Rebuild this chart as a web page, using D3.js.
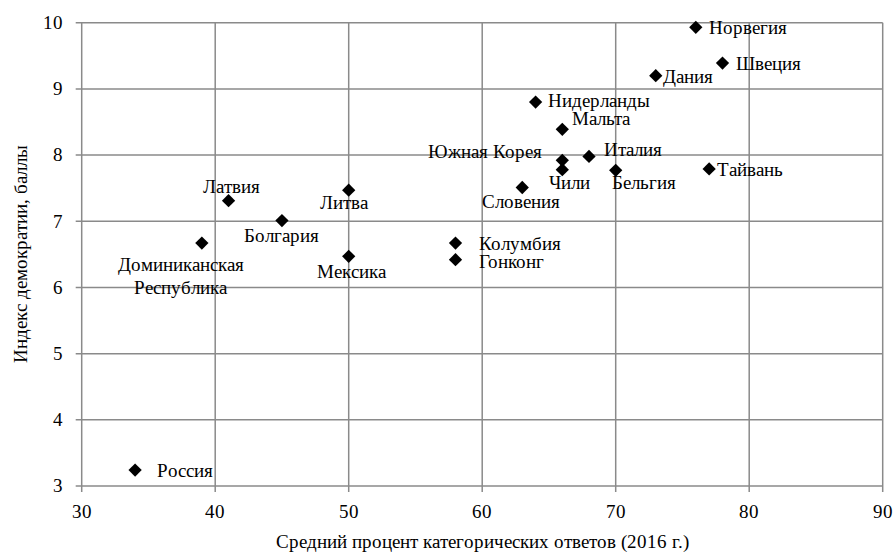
<!DOCTYPE html>
<html>
<head>
<meta charset="utf-8">
<script src="https://cdn.jsdelivr.net/npm/d3@7"></script>
<style>
  @font-face {
    font-family: "ChartSerif";
    src: local("Liberation Serif"), local("LiberationSerif"), local("Liberation Serif Regular"), local("LiberationSerif-Regular");
  }
  body { margin: 0; background: #fff; }
  svg text { font-family: "ChartSerif", "Liberation Serif", "Times New Roman", serif; }
</style>
</head>
<body>
<script>
// data
var countries = ["Норвегия", "Швеция", "Дания", "Нидерланды", "Мальта", "Южная Корея", "Италия",
                 "Чили", "Бельгия", "Тайвань", "Словения", "Литва", "Латвия", "Болгария",
                 "Доминиканская Республика", "Мексика", "Колумбия", "Гонконг", "Россия"];
var categorical = [76, 78, 73, 64, 66, 66, 68, 66, 70, 77, 63, 50, 41, 45, 39, 50, 58, 58, 34];
var democracy = [9.93, 9.39, 9.20, 8.80, 8.39, 7.92, 7.98, 7.78, 7.77, 7.79, 7.51, 7.47, 7.31, 7.01,
                 6.67, 6.47, 6.67, 6.42, 3.24];
var xTicks = [30, 40, 50, 60, 70, 80, 90];
var yTicks = [3, 4, 5, 6, 7, 8, 9, 10];

// label placement: [dx, dy, anchor]
var labelPos = {
  "Норвегия": [13, 7, "start"],
  "Швеция": [13, 7, "start"],
  "Дания": [7, 7, "start"],
  "Нидерланды": [12, 5, "start"],
  "Мальта": [10, -4, "start"],
  "Южная Корея": [-20, -2, "end"],
  "Италия": [15, 0, "start"],
  "Чили": [7, 19, "middle"],
  "Бельгия": [28, 19, "middle"],
  "Тайвань": [8, 7, "start"],
  "Словения": [-1, 20, "middle"],
  "Литва": [-5, 19, "middle"],
  "Латвия": [3, -8, "middle"],
  "Болгария": [0, 21, "middle"],
  "Доминиканская Республика": [-21, 28, "middle"],
  "Мексика": [3, 22, "middle"],
  "Колумбия": [23, 7, "start"],
  "Гонконг": [23, 8, "start"],
  "Россия": [22, 7, "start"]
};

var width = 894, height = 555;
var margin = {top: 22.7, right: 11.3, bottom: 69, left: 81.7};
var fs = "19px";

var svg = d3.select("body").append("svg")
    .attr("width", width)
    .attr("height", height);

var x = d3.scaleLinear().domain([30, 90]).range([margin.left, width - margin.right]);
var y = d3.scaleLinear().domain([3, 10]).range([height - margin.bottom, margin.top]);

var gridColor = "#8a8a8a";

// grid
svg.append("g").selectAll("line")
    .data(xTicks)
    .enter().append("line")
    .attr("x1", function(d) { return x(d); })
    .attr("x2", function(d) { return x(d); })
    .attr("y1", y(3) + 6)
    .attr("y2", y(10))
    .style("stroke", gridColor)
    .style("stroke-width", 1.5);

svg.append("g").selectAll("line")
    .data(yTicks)
    .enter().append("line")
    .attr("x1", x(30) - 6)
    .attr("x2", x(90))
    .attr("y1", function(d) { return y(d); })
    .attr("y2", function(d) { return y(d); })
    .style("stroke", gridColor)
    .style("stroke-width", 1.5);

// tick labels
svg.append("g").selectAll("text")
    .data(xTicks)
    .enter().append("text")
    .attr("x", function(d) { return x(d); })
    .attr("y", y(3) + 32)
    .attr("text-anchor", "middle")
    .style("font-size", fs)
    .text(function(d) { return d; });

svg.append("g").selectAll("text")
    .data(yTicks)
    .enter().append("text")
    .attr("x", x(30) - 19)
    .attr("y", function(d) { return y(d); })
    .attr("dy", "0.33em")
    .attr("text-anchor", "end")
    .style("font-size", fs)
    .text(function(d) { return d; });

// axis titles
svg.append("text")
    .attr("x", (x(30) + x(90)) / 2)
    .attr("y", 548)
    .attr("text-anchor", "middle")
    .style("font-size", fs)
    .text("Средний процент категорических ответов (2016 г.)");

svg.append("text")
    .attr("transform", "translate(27," + (y(3) + y(10)) / 2 + ") rotate(-90)")
    .attr("text-anchor", "middle")
    .style("font-size", fs)
    .text("Индекс демократии, баллы");

// points
var points = countries.map(function(c, i) {
  return {name: c, x: categorical[i], y: democracy[i]};
});

var diamond = d3.symbol().type(d3.symbolSquare).size(88);

svg.append("g").selectAll("path")
    .data(points)
    .enter().append("path")
    .attr("d", diamond)
    .attr("transform", function(d) {
      return "translate(" + x(d.x) + "," + y(d.y) + ") rotate(45)";
    })
    .style("fill", "#000");

// labels
var label = svg.append("g").selectAll("text")
    .data(points)
    .enter().append("text")
    .attr("x", function(d) { return x(d.x) + labelPos[d.name][0]; })
    .attr("y", function(d) { return y(d.y) + labelPos[d.name][1]; })
    .attr("text-anchor", function(d) { return labelPos[d.name][2]; })
    .style("font-size", fs);

label.each(function(d) {
  var t = d3.select(this);
  if (d.name === "Доминиканская Республика") {
    t.append("tspan").attr("x", x(d.x) + labelPos[d.name][0]).text("Доминиканская");
    t.append("tspan").attr("x", x(d.x) + labelPos[d.name][0]).attr("dy", 23).text("Республика");
  } else {
    t.text(d.name);
  }
});
</script>
</body>
</html>
